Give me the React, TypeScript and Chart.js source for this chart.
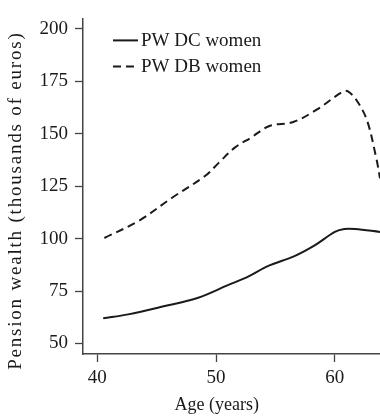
import React, { useEffect, useRef } from "react";
import { Chart, registerables } from "chart.js";

Chart.register(...registerables);

const ageDC = [40.5, 42.6, 45.5, 48.5, 51, 52.7, 54.4, 56.6, 58.3, 60, 60.8, 61.7, 63.8];
const pwDC = [62, 63.9, 67.6, 71.8, 77.8, 81.9, 87, 91.7, 96.8, 103.2, 104.6, 104.6, 103.2];
const ageDB = [40.6, 43.5, 46.3, 49.1, 50.2, 51.6, 52.9, 54.5, 56.5, 58.5, 60.7, 61.1, 61.8, 62.7, 63.5, 63.8];
const pwDB = [100.3, 108.5, 119.5, 130, 136, 143.5, 148, 153.7, 155.6, 161.6, 170.2, 170.2, 166.2, 156.5, 138, 128.7];
const xTicks = [40, 50, 60];
const yTicks = [50, 75, 100, 125, 150, 175, 200];
const seriesLabels = ["PW DC women", "PW DB women"];
const xTitle = "Age (years)";
const yTitle = "Pension wealth (thousands of euros)";

const FONT = "'Liberation Serif', 'DejaVu Serif', serif";
const INK = "#1a1a1a";

export default function App() {
  const ref = useRef<HTMLCanvasElement | null>(null);
  useEffect(() => {
    if (!ref.current) return;
    const overlay = {
      id: "overlay",
      afterDraw(chart: any) {
        const ctx = chart.ctx;
        const a = chart.chartArea;
        ctx.save();
        ctx.fillStyle = INK;
        // x title
        ctx.font = `18px ${FONT}`;
        ctx.textAlign = "center";
        ctx.textBaseline = "middle";
        ctx.fillText(xTitle, a.left + (a.right - a.left) * 0.45, 405);
        // y title
        ctx.save();
        ctx.font = `19px ${FONT}`;
        (ctx as any).letterSpacing = "1.8px";
        ctx.translate(16, a.top + (a.bottom - a.top) * 0.543);
        ctx.rotate(-Math.PI / 2);
        ctx.fillText(yTitle, 0, 0);
        ctx.restore();
        // legend
        ctx.font = `19px ${FONT}`;
        ctx.textAlign = "left";
        chart.data.datasets.forEach((ds: any, i: number) => {
          const y = a.top + 22 + i * 26;
          const x0 = a.left + 30;
          ctx.strokeStyle = ds.borderColor;
          ctx.lineWidth = ds.borderWidth;
          ctx.setLineDash(ds.borderDash || []);
          ctx.beginPath();
          ctx.moveTo(x0, y);
          ctx.lineTo(x0 + 25, y);
          ctx.stroke();
          ctx.setLineDash([]);
          ctx.fillText(ds.label, x0 + 28, y + 1);
        });
        ctx.restore();
      },
    };
    const chart = new Chart(ref.current, {
      type: "line",
      data: {
        datasets: [
          {
            label: seriesLabels[0],
            data: ageDC.map((x, i) => ({ x, y: pwDC[i] })),
            borderColor: INK,
            borderWidth: 2,
            pointRadius: 0,
            tension: 0.35,
            fill: false,
          },
          {
            label: seriesLabels[1],
            data: ageDB.map((x, i) => ({ x, y: pwDB[i] })),
            borderColor: INK,
            borderWidth: 2,
            borderDash: [8, 5],
            pointRadius: 0,
            tension: 0.35,
            fill: false,
          },
        ],
      },
      options: {
        animation: false,
        responsive: false,
        maintainAspectRatio: false,
        layout: { padding: { top: 8, right: 0, left: 0, bottom: 0 } },
        plugins: { legend: { display: false }, tooltip: { enabled: false } },
        scales: {
          x: {
            type: "linear",
            min: 38.8,
            max: 63.8,
            afterBuildTicks: (s: any) => { s.ticks = xTicks.map((v) => ({ value: v })); },
            afterFit: (s: any) => { s.height = 62; },
            grid: { drawOnChartArea: false, tickLength: 8, color: "#444", tickWidth: 1.3 },
            border: { display: true, color: "#444", width: 1.5 },
            ticks: { color: INK, font: { family: FONT, size: 19 }, padding: 5, maxRotation: 0 },
          },
          y: {
            min: 45,
            max: 205,
            afterBuildTicks: (s: any) => { s.ticks = yTicks.map((v) => ({ value: v })); },
            afterFit: (s: any) => { s.width = 83; },
            grid: { drawOnChartArea: false, tickLength: 8, color: "#444", tickWidth: 1.3 },
            border: { display: true, color: "#444", width: 1.5 },
            ticks: { color: INK, font: { family: FONT, size: 19 }, padding: 7 },
          },
        },
      },
      plugins: [overlay],
    } as any);
    return () => chart.destroy();
  }, []);
  return (
    <div style={{ position: "fixed", left: 0, top: 0, width: 380, height: 416 }}>
      <canvas ref={ref} width={380} height={416} style={{ width: 380, height: 416 }} />
    </div>
  );
}
